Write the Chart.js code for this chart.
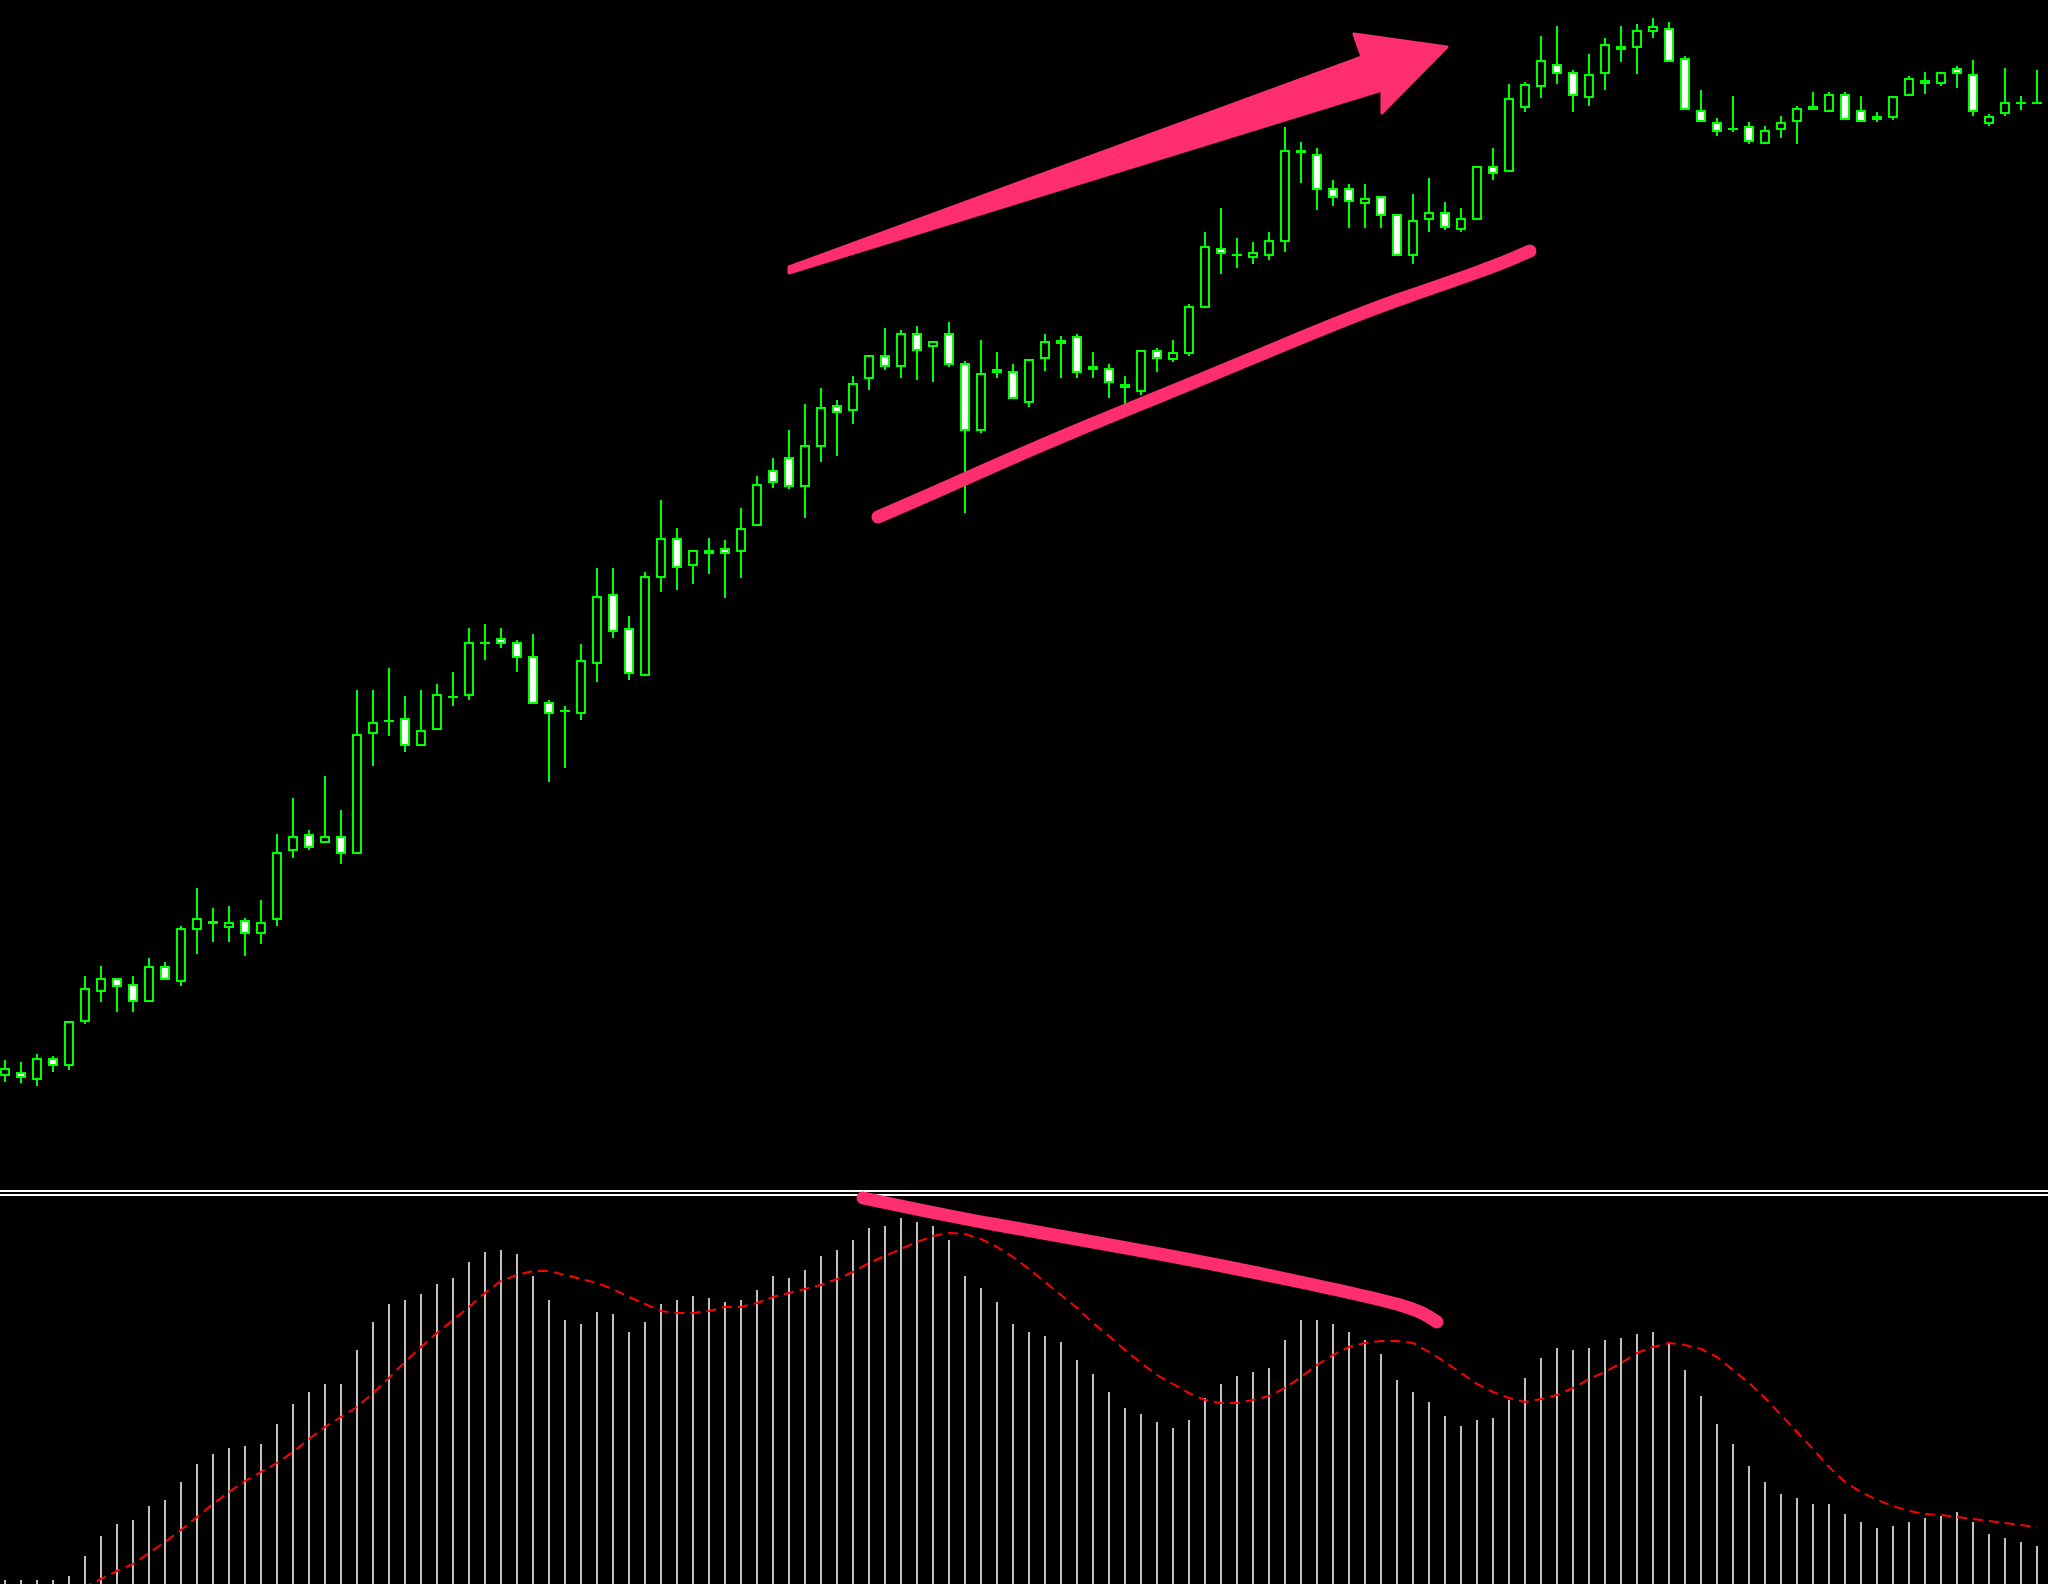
<!DOCTYPE html>
<html>
<head>
<meta charset="utf-8">
<script src="https://cdn.jsdelivr.net/npm/chart.js@4.4.1/dist/chart.umd.min.js"></script>
<style>
  html, body { margin: 0; padding: 0; background: #000; }
  body { width: 2048px; height: 1584px; position: relative; overflow: hidden; }
  #priceWrap { position: absolute; left: 0; top: 0; width: 2048px; height: 1190px; }
  #macdWrap { position: absolute; left: 0; top: 1180px; width: 2048px; height: 404px; z-index: 2; }
  .sep { position: absolute; left: 0; width: 2048px; height: 2px; background: #fff; z-index: 1; }
</style>
</head>
<body>
<div id="priceWrap"><canvas id="chartPrice" width="2048" height="1190"></canvas></div>
<div class="sep" style="top:1190px"></div>
<div class="sep" style="top:1194px"></div>
<div id="macdWrap"><canvas id="chartMacd" width="2048" height="404"></canvas></div>
<script>
/* ═══════════════════════════════════════════
   DATA (price units)
═══════════════════════════════════════════ */
const OPEN = [
  114,118,110,132,124,168,198,212,206,188,
  224,208,260,269,262,270,256,270,339,356,
  347,354,336,456,470,472,444,460,494,494,
  548,552,548,534,488,480,476,526,596,562,
  514,612,652,624,640,642,638,664,720,733,
  703,743,785,779,811,835,823,857,843,857,
  827,759,817,819,787,831,850,854,824,822,
  806,798,840,830,836,882,942,936,932,934,
  948,1040,1036,1002,1002,986,994,976,934,970,
  978,960,970,1024,1018,1082,1103,1126,1118,1092,
  1116,1144,1142,1158,1162,1132,1080,1068,1062,1064,
  1046,1060,1068,1084,1078,1096,1080,1074,1072,1094,
  1110,1106,1122,1116,1066,1076,1088,1088
];
const HIGH = [
  130,128,136,134,169,214,224,212,214,232,
  228,264,302,282,284,272,290,356,392,360,
  414,380,500,500,522,494,500,506,518,562,
  566,562,550,556,490,484,546,622,622,574,
  618,690,662,640,652,650,682,714,732,760,
  786,802,790,814,835,862,860,864,849,868,
  829,850,838,826,831,856,854,856,838,826,
  814,840,842,850,886,958,982,952,948,958,
  1063,1048,1042,1010,1006,1006,994,976,996,1012,
  988,982,1024,1042,1106,1108,1154,1164,1120,1136,
  1152,1164,1166,1172,1168,1134,1100,1072,1094,1068,
  1064,1074,1084,1098,1098,1098,1094,1078,1094,1114,
  1118,1118,1124,1130,1076,1122,1094,1120
];
const LOW = [
  108,107,104,118,120,166,188,178,178,188,
  210,204,236,248,248,234,246,264,332,340,
  347,326,336,424,454,438,444,460,484,490,
  530,542,518,486,408,422,470,508,552,510,
  514,598,600,606,616,592,612,664,702,701,
  672,728,734,766,800,820,812,810,808,823,
  677,757,812,791,783,819,812,812,812,792,
  785,795,818,828,834,882,916,922,926,930,
  938,1007,980,984,962,962,962,934,926,958,
  960,958,970,1010,1018,1078,1092,1106,1078,1084,
  1100,1128,1116,1152,1128,1080,1068,1054,1058,1046,
  1046,1052,1046,1080,1078,1070,1068,1068,1070,1094,
  1096,1104,1102,1074,1064,1074,1080,1086
];
const CLOSE = [
  122,112,132,124,169,202,212,203,188,224,
  210,262,272,266,268,256,268,338,354,342,
  354,336,456,468,468,444,460,496,492,548,
  546,546,532,486,476,478,530,594,558,516,
  614,652,622,640,636,636,662,706,707,703,
  745,783,777,807,835,823,857,839,849,825,
  759,817,821,791,831,849,846,817,820,807,
  802,840,831,838,884,944,936,934,938,950,
  1040,1037,1000,992,988,992,974,934,970,978,
  962,972,1024,1016,1092,1106,1130,1116,1094,1116,
  1146,1140,1160,1164,1128,1080,1068,1058,1060,1048,
  1060,1068,1082,1080,1096,1070,1068,1070,1094,1112,
  1106,1118,1116,1078,1074,1088,1086,1086
];

// MACD histogram and signal line
const MACD_HIST = [
  4,4,4,4,8,28,48,60,64,78,
  84,102,120,130,136,138,140,160,180,192,
  200,200,234,262,280,284,290,300,306,322,
  332,334,330,308,284,264,260,272,270,252,
  262,280,284,288,286,282,284,294,308,306,
  314,328,334,344,356,358,366,362,358,344,
  308,296,282,260,252,248,242,224,210,192,
  176,170,162,156,164,186,200,208,212,216,
  244,264,264,260,252,244,230,204,192,182,
  168,158,164,166,184,206,226,236,234,236,
  244,246,250,252,240,214,188,160,140,118,
  102,90,86,80,80,70,62,56,58,62,
  66,68,72,62,50,46,42,38
];
const MACD_SIGNAL = [
  -24,-20,-16,-12,-8,-3,5,13,20,31,
  42,54,67,80,92,103,112,121,132,145,
  157,167,177,191,206,222,237,251,264,277,
  291,303,309,313,313,309,305,301,295,287,
  280,273,271,271,273,277,277,281,287,291,
  295,299,305,312,321,328,335,342,348,351,
  350,345,337,327,315,302,289,276,261,248,
  234,221,209,200,191,184,181,181,184,188,
  196,207,219,229,237,241,243,243,241,232,
  222,211,200,192,186,182,185,189,196,205,
  212,221,231,237,241,239,235,227,214,201,
  186,169,152,135,117,102,92,84,78,73,
  70,69,67,65,63,61,59,57
];

// hand-drawn marks, as [bar index, value]
const ARROW_PTS = [[49.0,923],[84.81,1133],[84.31,1156],[90.125,1143],[86.06,1077],[86.06,1100],[49.0,917]];
const SUPPORT_PTS = [[54.56,673],[57.19,691],[65.31,749],[74.69,810],[84.69,877],[90.31,908],[93.44,926],[95.31,939]];
const MACD_TREND_PTS = [[53.625,386],[58.94,368],[64.5,352],[75.69,320],[85.94,285],[88.44,273],[89.5,262]];

/* ═══════════════════════════════════════════
   HELPERS
═══════════════════════════════════════════ */
const GREEN = '#00ff00';
const PINK = '#ff2e6e';
const X_MIN = -0.3125;
const X_MAX = X_MIN + 128;

const idx = OPEN.map((_, i) => i);

function toPx(chart, pts) {
  const { x, y } = chart.scales;
  return pts.map(([i, v]) => [x.getPixelForValue(i), y.getPixelForValue(v)]);
}

function smoothStroke(ctx, p, width) {
  ctx.save();
  ctx.strokeStyle = PINK;
  ctx.lineWidth = width;
  ctx.lineCap = 'round';
  ctx.lineJoin = 'round';
  ctx.beginPath();
  ctx.moveTo(p[0][0], p[0][1]);
  for (let k = 1; k < p.length - 1; k++) {
    const mx = (p[k][0] + p[k + 1][0]) / 2;
    const my = (p[k][1] + p[k + 1][1]) / 2;
    ctx.quadraticCurveTo(p[k][0], p[k][1], mx, my);
  }
  const last = p[p.length - 1];
  ctx.lineTo(last[0], last[1]);
  ctx.stroke();
  ctx.restore();
}

function baseOptions(yMax) {
  return {
    responsive: false,
    animation: false,
    events: [],
    layout: { padding: 0 },
    plugins: { legend: { display: false }, tooltip: { enabled: false } },
    scales: {
      x: { type: 'linear', min: X_MIN, max: X_MAX, offset: false, display: false },
      y: { min: 0, max: yMax, display: false }
    }
  };
}

/* ═══════════════════════════════════════════
   PRICE (candles)
═══════════════════════════════════════════ */
const priceMarks = {
  id: 'priceMarks',
  afterDatasetsDraw(chart) {
    const ctx = chart.ctx;
    const a = toPx(chart, ARROW_PTS);
    ctx.save();
    ctx.fillStyle = PINK;
    ctx.strokeStyle = PINK;
    ctx.lineWidth = 3;
    ctx.lineJoin = 'round';
    ctx.beginPath();
    a.forEach(([px, py], k) => k ? ctx.lineTo(px, py) : ctx.moveTo(px, py));
    ctx.closePath();
    ctx.fill();
    ctx.stroke();
    ctx.restore();
    smoothStroke(ctx, toPx(chart, SUPPORT_PTS), 13);
  }
};

new Chart(document.getElementById('chartPrice'), {
  type: 'bar',
  data: {
    datasets: [
      {
        // bodies drawn on top of the wicks
        label: 'body',
        data: idx.map(i => ({ x: i, y: [OPEN[i], CLOSE[i]] })),
        backgroundColor: idx.map(i => CLOSE[i] >= OPEN[i] ? '#000000' : '#ffffff'),
        borderColor: GREEN,
        borderWidth: 2,
        borderSkipped: false,
        barThickness: 10,
        grouped: false,
        inflateAmount: 0,
        order: 0
      },
      {
        label: 'wick',
        data: idx.map(i => ({ x: i, y: [LOW[i], HIGH[i]] })),
        backgroundColor: GREEN,
        borderWidth: 0,
        barThickness: 2,
        grouped: false,
        inflateAmount: 0,
        order: 1
      }
    ]
  },
  options: baseOptions(1190),
  plugins: [priceMarks]
});

/* ═══════════════════════════════════════════
   MACD
═══════════════════════════════════════════ */
const macdMarks = {
  id: 'macdMarks',
  afterDatasetsDraw(chart) {
    smoothStroke(chart.ctx, toPx(chart, MACD_TREND_PTS), 13);
  }
};

new Chart(document.getElementById('chartMacd'), {
  type: 'bar',
  data: {
    datasets: [
      {
        type: 'line',
        label: 'Signal',
        data: idx.map(i => ({ x: i, y: MACD_SIGNAL[i] })),
        borderColor: '#ff0000',
        borderWidth: 2,
        borderDash: [10, 6],
        pointRadius: 0,
        tension: 0,
        fill: false,
        order: 0
      },
      {
        label: 'MACD',
        data: idx.map(i => ({ x: i, y: MACD_HIST[i] })),
        backgroundColor: '#c0c0c0',
        borderWidth: 0,
        barThickness: 2,
        grouped: false,
        inflateAmount: 0,
        order: 1
      }
    ]
  },
  options: baseOptions(404),
  plugins: [macdMarks]
});
</script>
</body>
</html>
